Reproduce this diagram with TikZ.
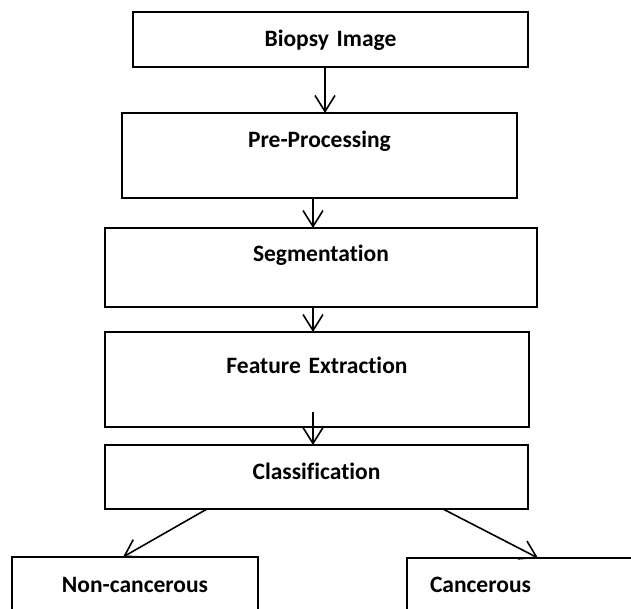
\documentclass[tikz,border=0pt]{standalone}
\usepackage{fontspec}
\setmainfont{Carlito}[Ligatures=NoCommon]
\usetikzlibrary{arrows.meta}

\tikzstyle{stage}=[draw, line width=2pt, inner sep=0pt, outer sep=0pt,
                   anchor=north west, align=center,
                   font=\bfseries\fontsize{23.5}{28}\selectfont]
\tikzstyle{flow}=[line width=1.6pt, -{Straight Barb[length=16pt, width=20pt]}]

\begin{document}
\begin{tikzpicture}[x=1pt, y=-1pt]
  \clip (0,0) rectangle (631,609);

  \node[stage, line width=1.5pt, text width=395pt, text height=35pt, text depth=20pt] (bio) at (133,12) {Biopsy Image};
  \node[stage, text width=395pt, text height=35pt, text depth=50pt] (pre) at (122,113) {Pre-Processing};
  \node[stage, text width=432pt, text height=34pt, text depth=45pt] (seg) at (105,228) {Segmentation};
  \node[stage, text width=424pt, text height=41pt, text depth=54pt] (feat) at (105,332) {Feature Extraction};
  \node[stage, text width=423pt, text height=34pt, text depth=30pt] (class) at (105,445) {Classification};

  \node[stage, text width=246pt, text height=35pt, text depth=30pt] (noncan) at (12,557) {Non-cancerous};
  \node[stage, align=left, inner xsep=23pt, text width=200pt, text height=34pt, text depth=30pt] (can) at (407,558) {Cancerous};

  \draw[flow] ([xshift=-5.5pt]bio.south) -- ([xshift=5.5pt]pre.north);
  \draw[flow] ([xshift=-6.5pt]pre.south) -- ([xshift=-8pt]seg.north);
  \draw[flow] ([xshift=-8pt]seg.south) -- ([xshift=-4pt]feat.north);
  \draw[flow] ([xshift=-4pt, yshift=15pt]feat.south) -- ([xshift=-3.5pt]class.north);

  \draw[flow] ([xshift=-109.5pt]class.south) -- ([xshift=-12pt]noncan.north);
  \draw[flow] ([xshift=126.5pt]class.south) -- ([xshift=131pt]can.north west);
\end{tikzpicture}
\end{document}
